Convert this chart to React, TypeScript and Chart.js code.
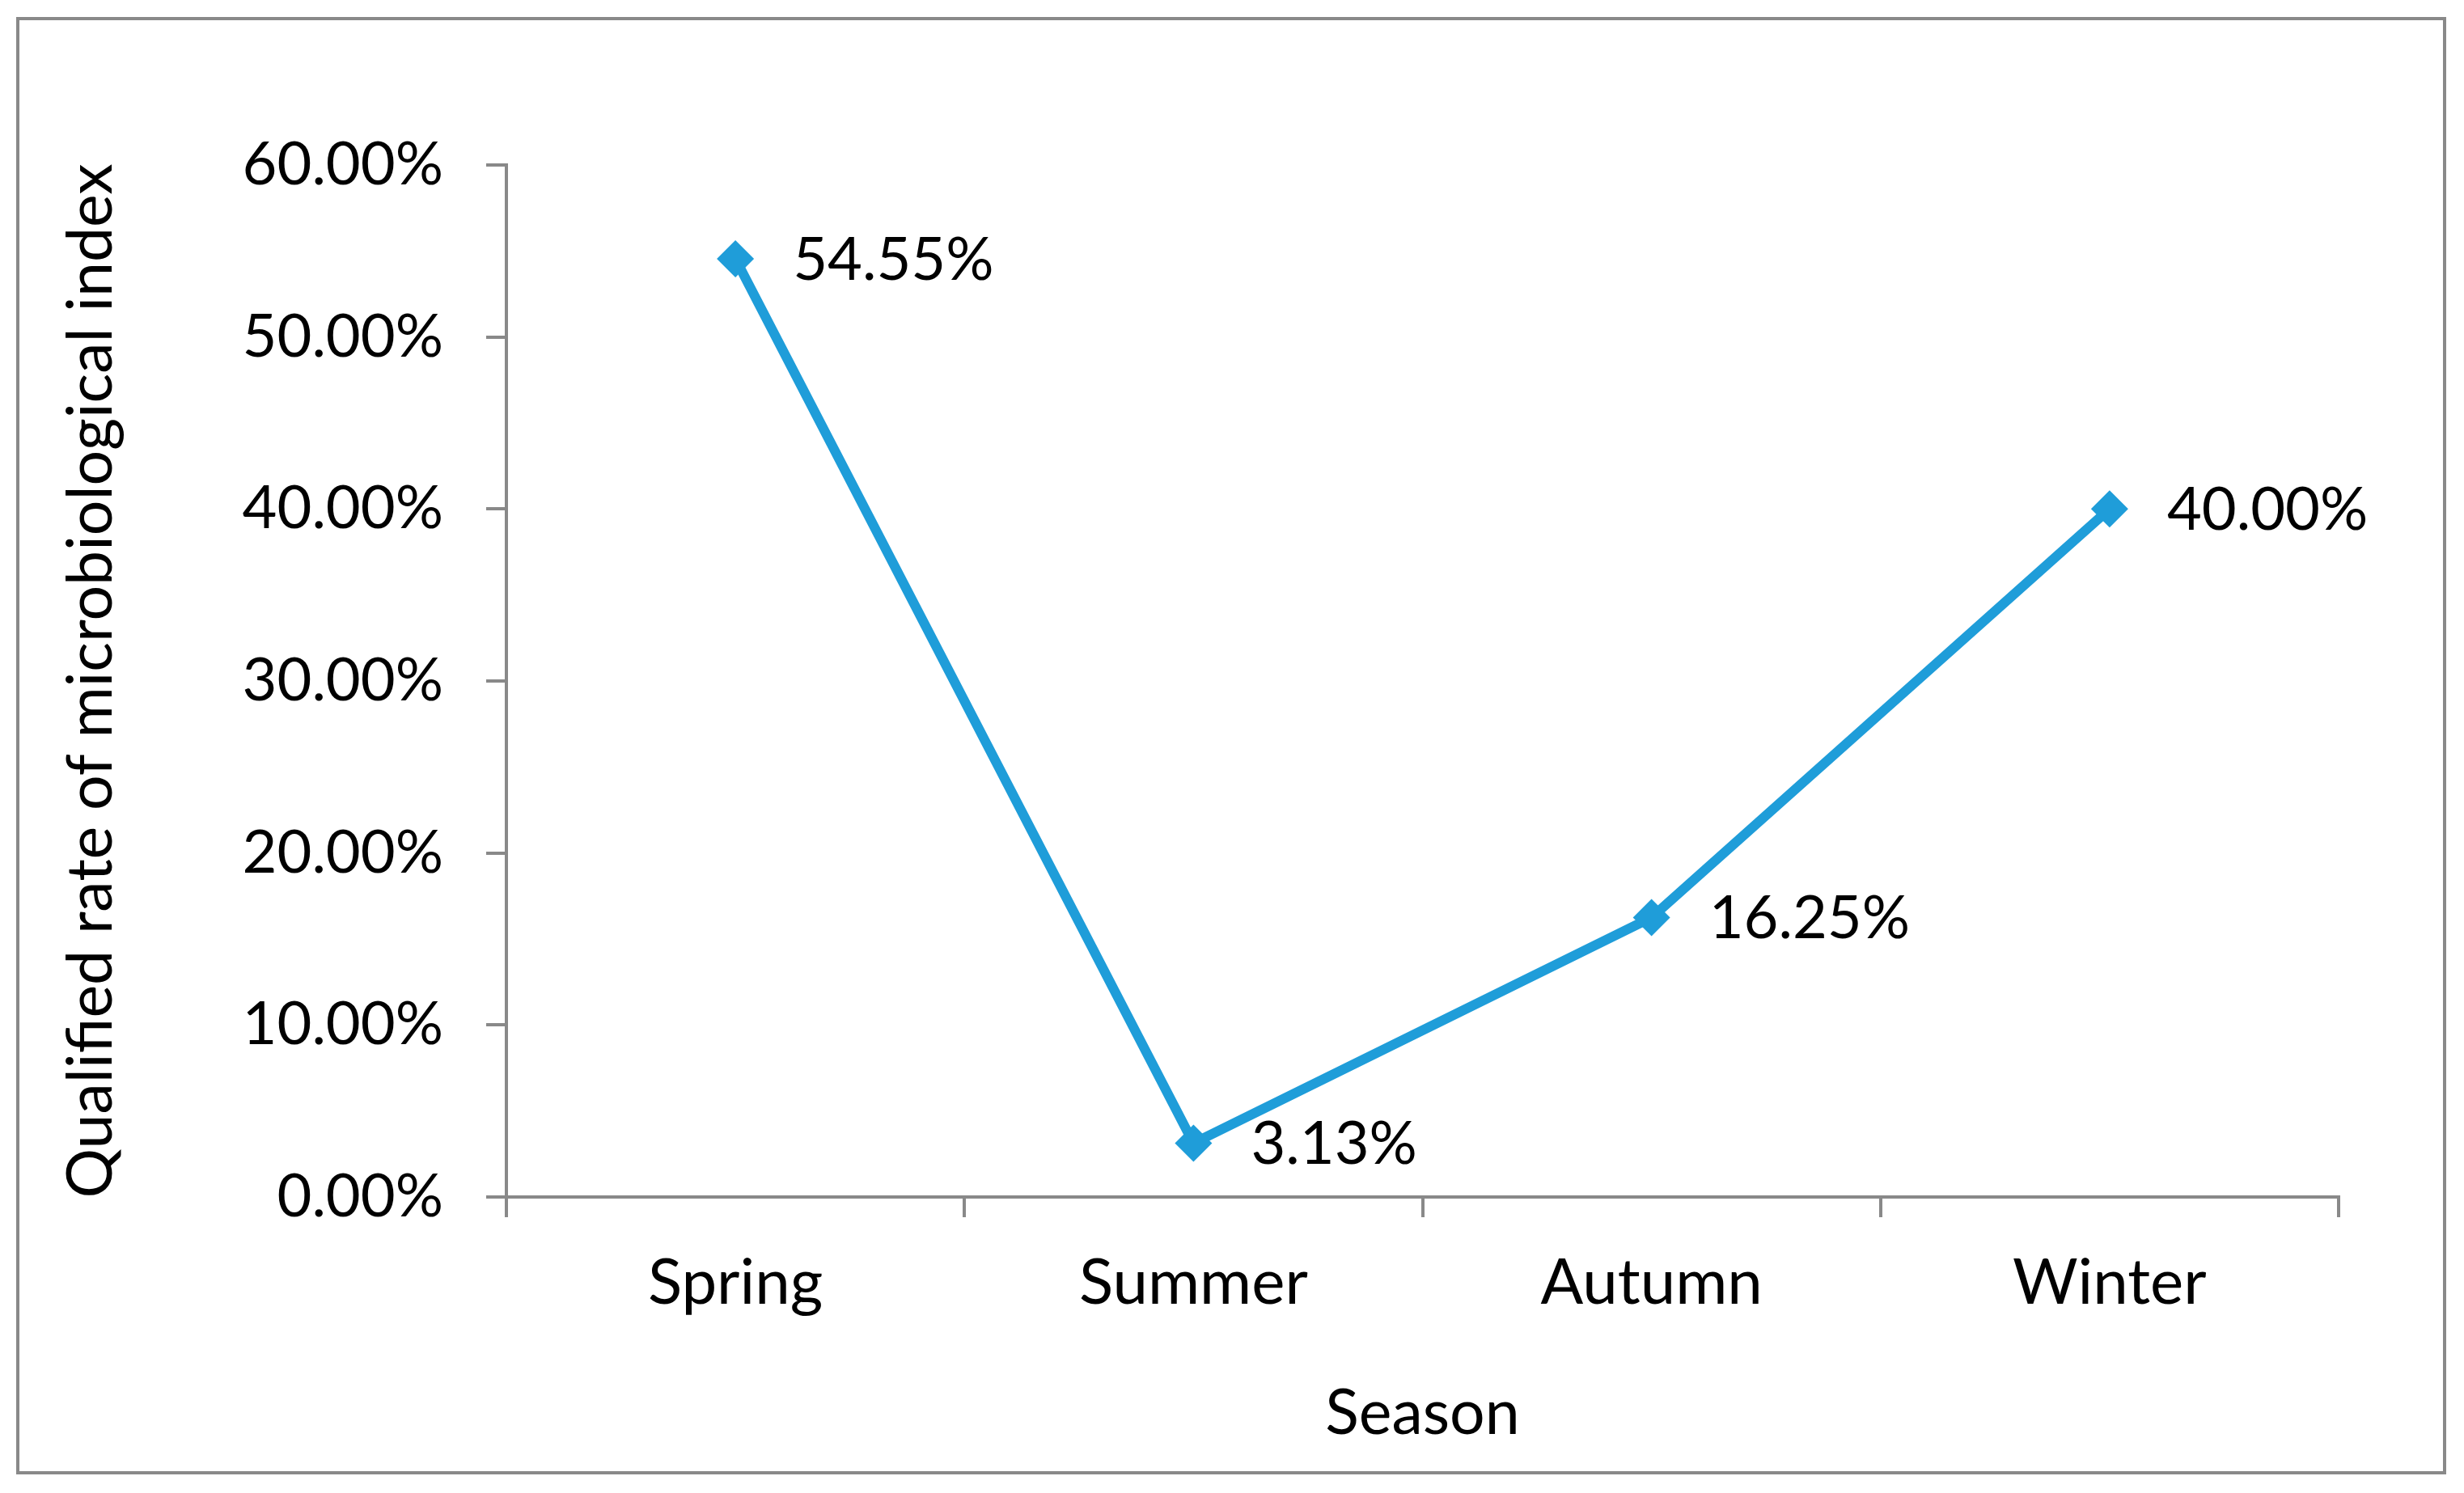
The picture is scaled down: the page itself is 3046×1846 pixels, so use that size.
import React, { useEffect, useRef } from "react";
import { Chart, registerables } from "chart.js";

Chart.register(...registerables);

const categories = ["Spring", "Summer", "Autumn", "Winter"];
const qualifiedRate = [0.5455, 0.0313, 0.1625, 0.4];
const valueLabels = ["54.55%", "3.13%", "16.25%", "40.00%"];
const yTickMax = 0.6;
const yTickStep = 0.1;
const xTitle = "Season";
const yTitle = "Qualified rate of microbiological index";

const FONT = "Lato, 'Open Sans', sans-serif";
const FS = 74;
const FS_CAT = 78;
const FS_TITLE = 77;
const LINE_COLOR = "#1F9DD9";
const AXIS_COLOR = "#898989";

const frame = {
  id: "frame",
  beforeDraw(chart: any) {
    const ctx = chart.ctx;
    ctx.save();
    ctx.fillStyle = "#ffffff";
    ctx.fillRect(0, 0, chart.width, chart.height);
    ctx.strokeStyle = AXIS_COLOR;
    ctx.lineWidth = 4;
    ctx.strokeRect(22, 23, 3000, 1798);
    ctx.restore();
  },
};

const valueLabelPlugin = {
  id: "valueLabels",
  afterDatasetsDraw(chart: any) {
    const ctx = chart.ctx;
    const meta = chart.getDatasetMeta(0);
    ctx.save();
    ctx.font = `${FS}px ${FONT}`;
    ctx.fillStyle = "#000";
    ctx.textAlign = "left";
    ctx.textBaseline = "middle";
    meta.data.forEach((pt: any, i: number) => {
      ctx.fillText(valueLabels[i], pt.x + 71, pt.y + 2);
    });
    ctx.restore();
  },
};

export default function App() {
  const ref = useRef<HTMLCanvasElement | null>(null);
  useEffect(() => {
    if (!ref.current) return;
    const font = { family: FONT, size: FS };
    const catFont = { family: FONT, size: FS_CAT };
    const titleFont = { family: FONT, size: FS_TITLE };
    const chart = new Chart(ref.current, {
      type: "line",
      data: {
        labels: categories,
        datasets: [
          {
            data: qualifiedRate,
            borderColor: LINE_COLOR,
            backgroundColor: LINE_COLOR,
            borderWidth: 12,
            pointStyle: "rectRot",
            pointRadius: 23,
            pointBorderWidth: 0,
            pointBackgroundColor: LINE_COLOR,
            tension: 0,
          },
        ],
      },
      options: {
        animation: false,
        responsive: false,
        devicePixelRatio: 1,
        layout: { padding: { left: 0, top: 204, right: 155, bottom: 0 } },
        plugins: { legend: { display: false }, tooltip: { enabled: false } },
        scales: {
          x: {
            type: "category",
            offset: true,
            grid: {
              offset: true,
              drawOnChartArea: false,
              tickLength: 25,
              color: AXIS_COLOR,
              lineWidth: 4,
            },
            border: { display: true, color: AXIS_COLOR, width: 4 },
            ticks: { font: catFont, color: "#000", padding: 35, maxRotation: 0, autoSkip: false },
            title: {
              display: true,
              text: xTitle,
              font: titleFont,
              color: "#000",
              padding: { top: 0, bottom: 52 },
            },
            afterFit: (s: any) => {
              s.height = 366;
            },
          },
          y: {
            min: 0,
            max: yTickMax,
            ticks: {
              stepSize: yTickStep,
              font,
              color: "#000",
              padding: 53,
              callback: (v: any) => (Number(v) * 100).toFixed(2) + "%",
            },
            grid: {
              drawOnChartArea: false,
              tickLength: 25,
              color: AXIS_COLOR,
              lineWidth: 4,
            },
            border: { display: true, color: AXIS_COLOR, width: 4 },
            title: {
              display: true,
              text: yTitle,
              font: titleFont,
              color: "#000",
              padding: { top: 67, bottom: 0 },
            },
            afterFit: (s: any) => {
              s.width = 626;
            },
          },
        },
      },
      plugins: [frame, valueLabelPlugin],
    } as any);
    return () => chart.destroy();
  }, []);
  return (
    <div style={{ position: "fixed", left: 0, top: 0, width: 3046, height: 1846 }}>
      <canvas ref={ref} width={3046} height={1846} style={{ width: 3046, height: 1846 }} />
    </div>
  );
}
